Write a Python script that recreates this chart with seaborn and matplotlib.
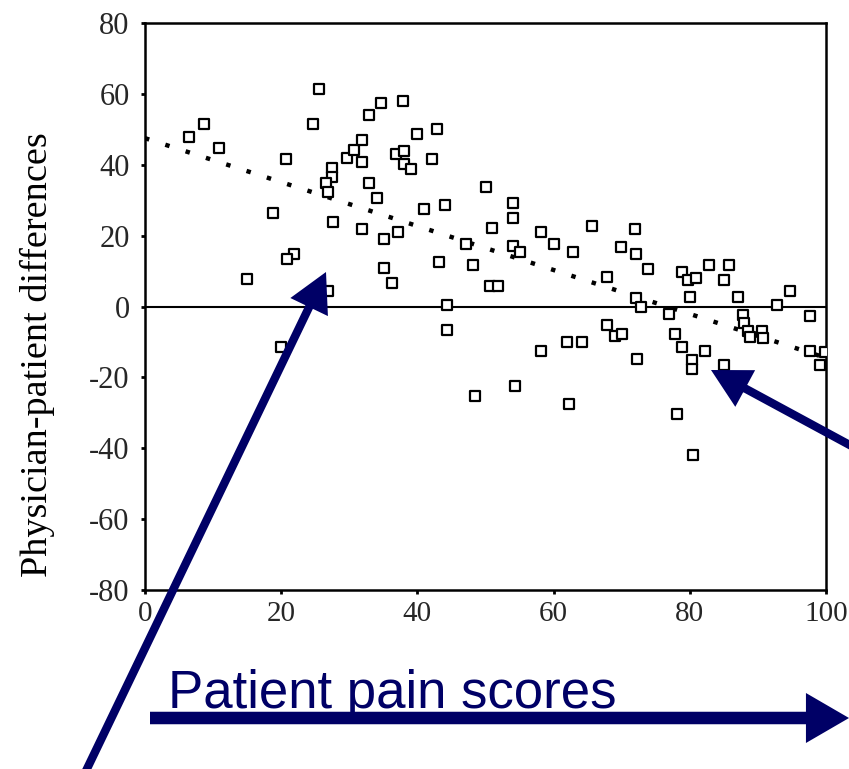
import numpy as np
import pandas as pd
import matplotlib
matplotlib.use("Agg")
import matplotlib.pyplot as plt
import seaborn as sns

# ---- data ----
pain_scores = [6.5, 8.7, 10.9, 15.0, 18.8, 20.7, 21.9, 20.9, 20.0, 24.6,
               25.6, 27.5, 27.5, 26.6, 26.8, 26.9, 27.6, 29.7, 30.7, 31.8,
               31.8, 32.9, 32.9, 34.0, 31.9, 34.7, 37.9, 35.1, 35.1, 36.2,
               36.9, 38.1, 38.1, 39.1, 37.1, 39.9, 42.1, 42.9, 41.0, 43.2,
               44.0, 44.3, 44.3, 47.2, 48.1, 48.5, 50.1, 50.9, 50.6, 51.8,
               54.0, 54.0, 54.4, 54.0, 55.0, 58.2, 58.1, 60.1, 62.2, 62.9,
               61.9, 64.1, 65.7, 67.9, 67.9, 69.0, 70.1, 69.9, 71.9, 72.1,
               73.8, 72.1, 72.9, 72.2, 76.9, 78.1, 78.8, 79.7, 80.9, 77.9,
               78.9, 80.3, 80.3, 80.4, 80.0, 82.2, 82.8, 85.7, 85.0, 85.0,
               87.1, 87.2, 87.8, 87.9, 88.5, 88.8, 90.6, 90.7, 92.8, 94.7,
               97.6, 97.6, 99.1, 99.9]
differences = [47.8, 51.4, 44.8, 7.7, 26.4, 41.6, 14.7, 13.4, -11.5, 51.6,
               61.5, 39.1, 36.6, 34.9, 32.3, 4.4, 23.9, 41.9, 44.1, 46.9,
               40.9, 53.9, 34.9, 30.7, 22.0, 57.5, 57.9, 19.0, 10.8, 6.6,
               43.0, 43.8, 40.1, 38.7, 21.0, 48.8, 41.7, 50.1, 27.6, 12.5,
               28.6, -6.7, 0.5, 17.5, 11.8, -25.2, 33.8, 22.1, 5.8, 5.7,
               29.1, 24.9, -22.3, 17.2, 15.5, -12.6, 21.0, 17.6, -27.4, 15.5,
               -9.9, -10.0, 22.7, 8.2, -5.3, -8.2, -7.7, 16.9, 21.9, 14.9,
               10.6, 2.4, -0.1, -14.8, -2.0, -30.3, 9.8, 7.5, 8.1, -7.7,
               -11.4, -15.1, -17.6, -41.9, 2.7, -12.6, 11.6, 11.8, 7.6, -16.4,
               2.7, -22.4, -2.4, -4.6, -6.9, -8.6, -7.0, -9.0, 0.3, 4.4,
               -2.7, -12.6, -16.4, -12.7]

fit_x = [0, 100]
fit_y = [47.5, -14.5]

x_ticks = [0, 20, 40, 60, 80, 100]
y_ticks = [80, 60, 40, 20, 0, -20, -40, -60, -80]

y_label = "Physician-patient differences"
x_caption = "Patient pain scores"

# ---- figure ----
sns.set_style("ticks")
plt.rcParams["font.family"] = ["Liberation Serif", "DejaVu Serif"]

W, H = 849, 769
fig = plt.figure(figsize=(W / 100, H / 100), dpi=100)
ax = fig.add_axes([145 / W, 1 - 590 / H, (826 - 145) / W, (590 - 23) / H])

navy = "#000066"

df = pd.DataFrame({"x": pain_scores, "y": differences})

ax.axhline(0, color="black", lw=1.5, zorder=1)
ax.plot(fit_x, fit_y, color="black", lw=3.2, linestyle=(0, (1, 3.8)),
        dash_capstyle="butt", zorder=2)
sns.scatterplot(data=df, x="x", y="y", ax=ax, marker="s", s=44,
                facecolor="white", edgecolor="black", linewidth=1.6, zorder=3)

ax.set_xlim(0, 100)
ax.set_ylim(-80, 80)
ax.set_xticks(x_ticks)
ax.set_yticks(y_ticks)
ax.set_xticklabels([str(v) for v in x_ticks], fontsize=21)
ax.set_yticklabels([str(v) for v in y_ticks], fontsize=22)
ax.tick_params(axis="both", direction="out", length=3, width=2, color="black", pad=5)
ax.tick_params(axis="y", pad=8)
ax.set_xlabel("")
ax.set_ylabel("")
for sp in ax.spines.values():
    sp.set_visible(True)
    sp.set_linewidth(1.8)
    sp.set_color("black")

fig.text(37 / W, 1 - 355 / H, y_label, rotation=90, ha="center", va="center",
         fontsize=27.5, color="black")

# caption in navy
fig.text(168 / W, 61 / H, x_caption, ha="left", va="baseline", fontsize=38,
         color=navy, family=["Liberation Sans", "DejaVu Sans"])

# arrows (figure pixels, origin bottom-left)
ann_kw = dict(xycoords="figure pixels", textcoords="figure pixels",
              annotation_clip=False)
diag_style = "simple,head_length=1.4,head_width=1.5,tail_width=0.3"
ax.annotate("", xy=(326, H - 272), xytext=(84, -6),
            arrowprops=dict(arrowstyle=diag_style, color=navy, lw=0,
                            mutation_scale=20, shrinkA=0, shrinkB=0), **ann_kw)
ax.annotate("", xy=(711, H - 370), xytext=(870, H - 456),
            arrowprops=dict(arrowstyle=diag_style, color=navy, lw=0,
                            mutation_scale=20, shrinkA=0, shrinkB=0), **ann_kw)
ax.annotate("", xy=(849, H - 718), xytext=(150, H - 718),
            arrowprops=dict(arrowstyle="simple,head_length=1.55,head_width=1.8,tail_width=0.45",
                            color=navy, lw=0, mutation_scale=20,
                            shrinkA=0, shrinkB=0), **ann_kw)

fig.savefig("out.png", dpi=100)
